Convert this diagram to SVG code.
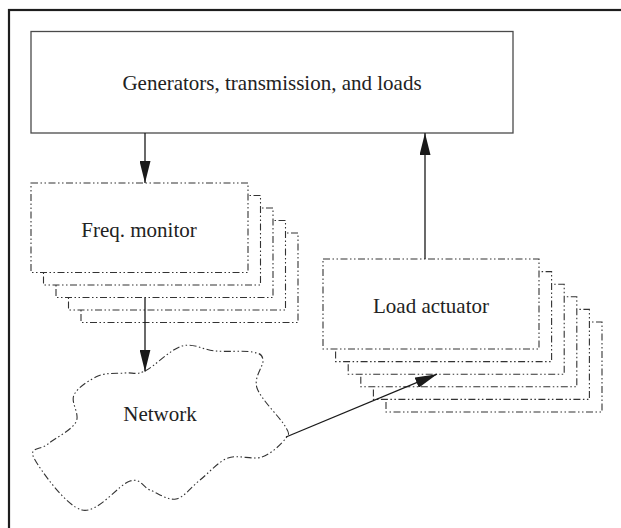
<svg xmlns="http://www.w3.org/2000/svg" width="621" height="528" viewBox="0 0 621 528">
  <style>
    .frame { fill: none; stroke: #1e1e1e; stroke-width: 2.2; }
    .solid { fill: #ffffff; stroke: #4a4a4a; stroke-width: 1.3; }
    .dashed { fill: #ffffff; stroke: #333333; stroke-width: 1.1; stroke-dasharray: 7 2.5 1.5 2.5 1.5 2.5; }
    .label { font-family: "Liberation Serif", "Times New Roman", serif; font-size: 21px; fill: #222222; text-anchor: middle; }
    .wire { fill: none; stroke: #1a1a1a; stroke-width: 1.3; marker-end: url(#head); }
  </style>
  <defs>
    <marker id="head" markerUnits="userSpaceOnUse" markerWidth="23" markerHeight="11" refX="22" refY="5.5" orient="auto">
      <path d="M0,0 L22,5.5 L0,11 Z" fill="#1a1a1a"/>
    </marker>
  </defs>

  <rect width="621" height="528" fill="#ffffff"/>
  <!-- outer border, open on the right and bottom -->
  <rect class="frame" x="9" y="10" width="640" height="540"/>

  <g id="plant">
    <rect class="solid" x="31" y="31.5" width="482" height="101.5"/>
    <text class="label" x="272" y="90">Generators, transmission, and loads</text>
  </g>

  <g id="freq-monitor">
    <rect class="dashed" x="81" y="233" width="217" height="89.5"/>
    <rect class="dashed" x="68.5" y="220.5" width="217" height="89.5"/>
    <rect class="dashed" x="56" y="208" width="217" height="89.5"/>
    <rect class="dashed" x="43.5" y="195.5" width="217" height="89.5"/>
    <rect class="dashed" x="31" y="183" width="217" height="89.5"/>
    <text class="label" x="139" y="237">Freq. monitor</text>
  </g>

  <g id="load-actuator">
    <rect class="dashed" x="386" y="322" width="216" height="90"/>
    <rect class="dashed" x="373.4" y="309.4" width="216" height="90"/>
    <rect class="dashed" x="360.8" y="296.8" width="216" height="90"/>
    <rect class="dashed" x="348.2" y="284.2" width="216" height="90"/>
    <rect class="dashed" x="335.6" y="271.6" width="216" height="90"/>
    <rect class="dashed" x="323" y="259" width="216" height="90"/>
    <text class="label" x="431" y="313">Load actuator</text>
  </g>

  <g id="network">
    <path class="dashed" d="M145,371 C154.5,366.5 170.3,349.3 182,346 S203.3,350 215,351 S244,350.5 252,352 S262.2,354 263,360 S253.3,377 257,388 S280.2,417.7 285,426 S289.8,432.8 286,438 S271.7,453.7 262,457 S238.3,454.2 228,458 S208.7,473.2 200,480 S184.3,497.3 176,499 S157.7,493 150,490 S141.3,477.7 130,481 S98,513.8 82,510 S39.7,469 34,458 S41,450 48,444 S71.7,430.2 76,422 S70.3,402.7 74,395 S89.5,379.7 98,376 S117.2,373.8 125,373 S135.5,375.5 145,371 Z"/>
    <text class="label" x="160" y="421">Network</text>
  </g>

  <g id="connectors">
    <line class="wire" x1="145" y1="133" x2="145" y2="183"/>
    <line class="wire" x1="145" y1="297.5" x2="145" y2="371.5"/>
    <line class="wire" x1="425" y1="259" x2="425" y2="133"/>
    <line class="wire" x1="286" y1="437" x2="437" y2="374.2"/>
  </g>
</svg>
